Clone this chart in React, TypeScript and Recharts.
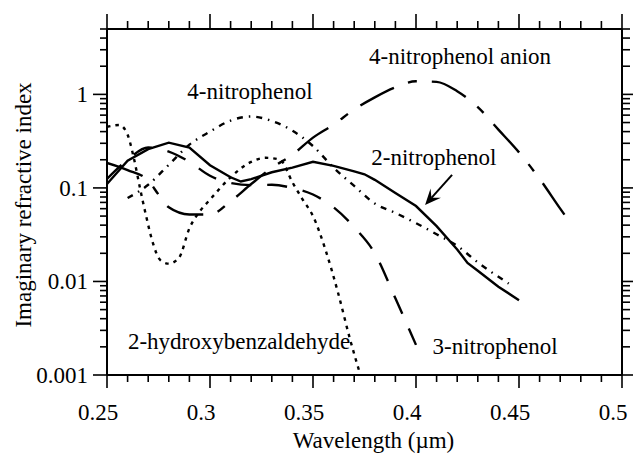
import React from 'react'
import { LineChart, Line, XAxis, YAxis, ReferenceDot, ReferenceLine, Label } from 'recharts'

const FONT = '"Liberation Serif", "Times New Roman", serif'

// wavelength (µm) and imaginary index for each compound
const wl2NP = [0.25, 0.26, 0.27, 0.28, 0.29, 0.3, 0.31, 0.315, 0.32, 0.33, 0.34, 0.35, 0.36, 0.37, 0.375, 0.38, 0.39, 0.4, 0.41, 0.42, 0.425, 0.43, 0.44, 0.45]
const k2NP = [0.11, 0.195, 0.26, 0.305, 0.27, 0.175, 0.13, 0.117, 0.124, 0.147, 0.165, 0.19, 0.172, 0.15, 0.14, 0.122, 0.088, 0.064, 0.039, 0.022, 0.0158, 0.013, 0.0088, 0.0063]

const wl3NP = [0.25, 0.26, 0.27, 0.28, 0.29, 0.3, 0.31, 0.32, 0.33, 0.34, 0.35, 0.36, 0.37, 0.38, 0.39, 0.4]
const k3NP = [0.125, 0.2, 0.27, 0.245, 0.19, 0.135, 0.113, 0.107, 0.108, 0.1, 0.085, 0.062, 0.038, 0.02, 0.0066, 0.0021]

const wl4NP = [0.26, 0.27, 0.28, 0.29, 0.3, 0.31, 0.32, 0.33, 0.34, 0.35, 0.36, 0.37, 0.38, 0.39, 0.4, 0.41, 0.42, 0.43, 0.445]
const k4NP = [0.078, 0.108, 0.177, 0.29, 0.4, 0.525, 0.58, 0.52, 0.41, 0.28, 0.165, 0.105, 0.068, 0.054, 0.042, 0.032, 0.024, 0.016, 0.0095]

const wlAnion = [0.25, 0.26, 0.27, 0.275, 0.28, 0.29, 0.3, 0.31, 0.32, 0.33, 0.34, 0.35, 0.36, 0.37, 0.38, 0.39, 0.4, 0.41, 0.42, 0.43, 0.44, 0.45, 0.46, 0.47, 0.475]
const kAnion = [0.185, 0.155, 0.12, 0.085, 0.062, 0.052, 0.052, 0.072, 0.11, 0.164, 0.226, 0.345, 0.476, 0.69, 0.93, 1.19, 1.38, 1.36, 1.08, 0.73, 0.42, 0.24, 0.125, 0.06, 0.042]

const wlHB = [0.25, 0.256, 0.26, 0.263, 0.266, 0.269, 0.272, 0.276, 0.28, 0.285, 0.29, 0.295, 0.3, 0.31, 0.32, 0.327, 0.334, 0.34, 0.345, 0.35, 0.356, 0.362, 0.368, 0.373]
const kHB = [0.45, 0.47, 0.37, 0.21, 0.1, 0.05, 0.027, 0.0168, 0.0155, 0.018, 0.037, 0.056, 0.075, 0.13, 0.19, 0.21, 0.2, 0.115, 0.075, 0.05, 0.022, 0.0078, 0.0024, 0.001]

const xTicks = [0.25, 0.26, 0.27, 0.28, 0.29, 0.3, 0.31, 0.32, 0.33, 0.34, 0.35, 0.36, 0.37, 0.38, 0.39, 0.4, 0.41, 0.42, 0.43, 0.44, 0.45, 0.46, 0.47, 0.48, 0.49, 0.5]
const yTicks = [
  0.001, 0.002, 0.003, 0.004, 0.005, 0.006, 0.007, 0.008, 0.009,
  0.01, 0.02, 0.03, 0.04, 0.05, 0.06, 0.07, 0.08, 0.09,
  0.1, 0.2, 0.3, 0.4, 0.5, 0.6, 0.7, 0.8, 0.9,
  1, 2, 3, 4, 5,
]
const yMajor = [0.001, 0.01, 0.1, 1]

const pts = (w: number[], k: number[]) => w.map((x, i) => ({ w: x, k: k[i] }))

const isMajorX = (v: number) => Math.abs(v * 20 - Math.round(v * 20)) < 1e-6
const isMajorY = (v: number) => yMajor.some((m) => Math.abs(m - v) < 1e-9)

const txt = { fontFamily: FONT, fontSize: 23, fill: '#000' }

function BottomTick({ x, y, payload }: any) {
  const major = isMajorX(payload.value)
  return (
    <g>
      <line x1={x} y1={y} x2={x} y2={y + (major ? 13 : 7)} stroke="#000" strokeWidth={1.6} />
      {major && (
        <text x={x - 9} y={y + 45} textAnchor="middle" {...txt}>
          {String(payload.value)}
        </text>
      )}
    </g>
  )
}

function TopTick({ x, y, payload }: any) {
  const major = isMajorX(payload.value)
  return <line x1={x} y1={y} x2={x} y2={y - (major ? 15 : 8)} stroke="#000" strokeWidth={1.6} />
}

function LeftTick({ x, y, payload }: any) {
  const major = isMajorY(payload.value)
  return (
    <g>
      <line x1={x} y1={y} x2={x - (major ? 14 : 7)} y2={y} stroke="#000" strokeWidth={1.6} />
      {major && (
        <text x={x - 19} y={y + 8} textAnchor="end" {...txt}>
          {String(payload.value)}
        </text>
      )}
    </g>
  )
}

function RightTick({ x, y, payload }: any) {
  const major = isMajorY(payload.value)
  return <line x1={x} y1={y} x2={x + (major ? 11 : 8)} y2={y} stroke="#000" strokeWidth={1.6} />
}

function Arrow(props: any) {
  const { x1, y1, x2, y2 } = props
  const a = Math.atan2(y2 - y1, x2 - x1)
  const len = 16
  const half = 7
  const bx = x2 - len * Math.cos(a)
  const by = y2 - len * Math.sin(a)
  const nx = x2 - len * 0.6 * Math.cos(a)
  const ny = y2 - len * 0.6 * Math.sin(a)
  const px = -Math.sin(a) * half
  const py = Math.cos(a) * half
  return (
    <g>
      <line x1={x1} y1={y1} x2={nx} y2={ny} stroke="#000" strokeWidth={2} />
      <polygon points={`${x2},${y2} ${bx + px},${by + py} ${nx},${ny} ${bx - px},${by - py}`} fill="#000" />
    </g>
  )
}

const notes = [
  { text: '4-nitrophenol', w: 0.3194, k: 1.08 },
  { text: '4-nitrophenol anion', w: 0.4214, k: 2.56 },
  { text: '2-nitrophenol', w: 0.4087, k: 0.2155 },
  { text: '2-hydroxybenzaldehyde', w: 0.3141, k: 0.00232 },
  { text: '3-nitrophenol', w: 0.4384, k: 0.00205 },
]

export default function App() {
  return (
    <div style={{ position: 'absolute', left: 0, top: 0, background: '#fff' }}>
      <LineChart width={634} height={453} margin={{ top: 0, right: 0, bottom: 0, left: 7 }}>
        <XAxis
          xAxisId="b"
          dataKey="w"
          type="number"
          domain={[0.25, 0.5]}
          allowDataOverflow
          ticks={xTicks}
          interval={0}
          height={78}
          tickSize={0}
          tickMargin={0}
          tickLine={false}
          tick={BottomTick}
          axisLine={{ stroke: '#000', strokeWidth: 2 }}
        >
          <Label value="Wavelength (µm)" position="center" dx={9} dy={26} {...txt} />
        </XAxis>
        <XAxis
          xAxisId="t"
          orientation="top"
          dataKey="w"
          type="number"
          domain={[0.25, 0.5]}
          allowDataOverflow
          ticks={xTicks}
          interval={0}
          height={29}
          tickSize={0}
          tickMargin={0}
          tickLine={false}
          tick={TopTick}
          axisLine={{ stroke: '#000', strokeWidth: 2 }}
        />
        <YAxis
          yAxisId="l"
          type="number"
          scale="log"
          domain={[0.001, 5]}
          allowDataOverflow
          ticks={yTicks}
          interval={0}
          width={100}
          tickSize={0}
          tickMargin={0}
          tickLine={false}
          tick={LeftTick}
          axisLine={{ stroke: '#000', strokeWidth: 2 }}
        >
          <Label value="Imaginary refractive index" angle={-90} position="center" dx={-34} dy={3} {...txt} />
        </YAxis>
        <YAxis
          yAxisId="r"
          orientation="right"
          type="number"
          scale="log"
          domain={[0.001, 5]}
          allowDataOverflow
          ticks={yTicks}
          interval={0}
          width={12}
          tickSize={0}
          tickMargin={0}
          tickLine={false}
          tick={RightTick}
          axisLine={{ stroke: '#000', strokeWidth: 2 }}
        />

        <Line xAxisId="b" yAxisId="l" data={pts(wl2NP, k2NP)} dataKey="k" type="linear" stroke="#000" strokeWidth={2.4} dot={false} isAnimationActive={false} />
        <Line xAxisId="b" yAxisId="l" data={pts(wl3NP, k3NP)} dataKey="k" type="monotone" stroke="#000" strokeWidth={2.4} strokeDasharray="20 16" dot={false} isAnimationActive={false} />
        <Line xAxisId="b" yAxisId="l" data={pts(wl4NP, k4NP)} dataKey="k" type="monotone" stroke="#000" strokeWidth={2.4} strokeDasharray="6 6 1.5 6" dot={false} isAnimationActive={false} />
        <Line xAxisId="b" yAxisId="l" data={pts(wlAnion, kAnion)} dataKey="k" type="monotone" stroke="#000" strokeWidth={2.4} strokeDasharray="38 15 9 15" dot={false} isAnimationActive={false} />
        <Line xAxisId="b" yAxisId="l" data={pts(wlHB, kHB)} dataKey="k" type="monotone" stroke="#000" strokeWidth={2.4} strokeDasharray="3.5 5" dot={false} isAnimationActive={false} />

        <ReferenceLine
          xAxisId="b"
          yAxisId="l"
          segment={[{ x: 0.4175, y: 0.138 }, { x: 0.4044, y: 0.0657 }]}
          shape={Arrow}
        />
        {notes.map((n) => (
          <ReferenceDot
            key={n.text}
            xAxisId="b"
            yAxisId="l"
            x={n.w}
            y={n.k}
            r={0}
            fill="none"
            stroke="none"
            ifOverflow="visible"
            label={{ value: n.text, position: 'center', ...txt }}
          />
        ))}
      </LineChart>
    </div>
  )
}
